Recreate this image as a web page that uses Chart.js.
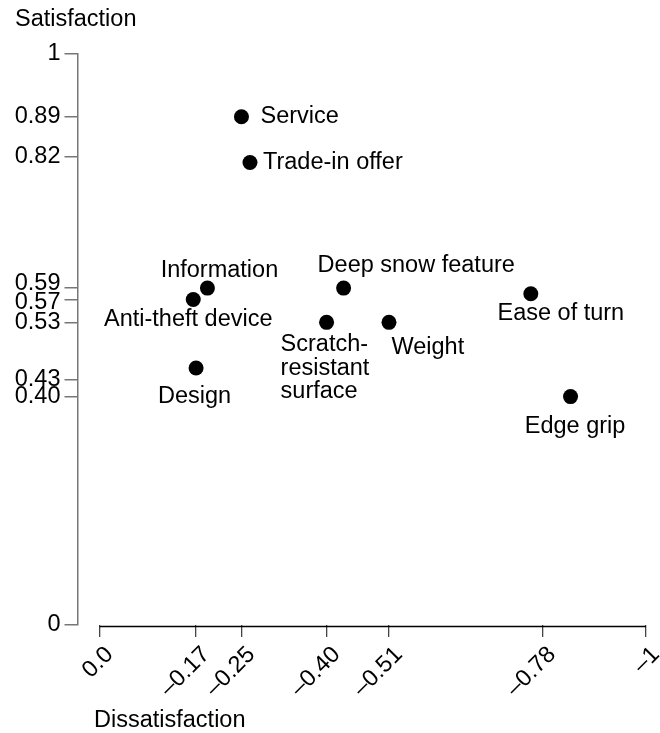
<!DOCTYPE html>
<html>
<head>
<meta charset="utf-8">
<script src="https://cdn.jsdelivr.net/npm/chart.js@4.4.1/dist/chart.umd.min.js"></script>
<style>
  html, body { margin: 0; padding: 0; background: #fff; }
  #wrap { width: 660px; height: 733px; }
</style>
</head>
<body>
<div id="wrap"><canvas id="chart" width="660" height="733"></canvas></div>
<script>
// data
const features = [
  "Service", "Trade-in offer", "Information", "Anti-theft device", "Design",
  "Scratch-resistant surface", "Deep snow feature", "Weight", "Ease of turn", "Edge grip"
];
const dissatisfaction = [-0.25, -0.265, -0.19, -0.165, -0.17, -0.40, -0.43, -0.51, -0.76, -0.83];
const satisfaction = [0.89, 0.81, 0.59, 0.57, 0.45, 0.53, 0.59, 0.53, 0.58, 0.40];

const xTickValues = [0, -0.17, -0.25, -0.40, -0.51, -0.78, -1];
const xTickLabels = ["0.0", "\u20130.17", "\u20130.25", "\u20130.40", "\u20130.51", "\u20130.78", "\u20131"];
const yTickValues = [0, 0.40, 0.43, 0.53, 0.57, 0.59, 0.82, 0.89, 1];
const yTickLabels = ["0", "0.40", "0.43", "0.53", "0.57", "0.59", "0.82", "0.89", "1"];

const FONT = '"Liberation Sans", Arial, Helvetica, sans-serif';
const SIZE = 23.5;

// where each name sits around its dot (px from the dot centre)
const labelSpots = {
  "Service": { dx: 19, dy: 0, align: "left" },
  "Trade-in offer": { dx: 13, dy: 0, align: "left" },
  "Information": { dx: 12, dy: -18, align: "center" },
  "Anti-theft device": { dx: -5, dy: 19.5, align: "center" },
  "Design": { dx: -1.5, dy: 28, align: "center" },
  "Scratch-resistant surface": { dx: -46, dy: 22.5, align: "left", lines: ["Scratch-", "resistant", "surface"] },
  "Deep snow feature": { dx: -26, dy: -22.5, align: "left" },
  "Weight": { dx: 2.5, dy: 25, align: "left" },
  "Ease of turn": { dx: 30, dy: 19.5, align: "center" },
  "Edge grip": { dx: 4.5, dy: 30, align: "center" }
};
// close y labels get pushed apart a little
const yLabelNudge = { 0.59: -5, 0.57: 3 };

const pointLabels = {
  id: "pointLabels",
  afterDatasetsDraw(chart) {
    const ctx = chart.ctx;
    const meta = chart.getDatasetMeta(0);
    ctx.save();
    ctx.font = SIZE + "px " + FONT;
    ctx.fillStyle = "#000";
    ctx.textBaseline = "middle";
    meta.data.forEach((pt, i) => {
      const spot = labelSpots[features[i]];
      const lines = spot.lines || [features[i]];
      ctx.textAlign = spot.align;
      lines.forEach((line, k) => {
        ctx.fillText(line, pt.x + spot.dx, pt.y + spot.dy + k * 23.4);
      });
    });
    ctx.restore();
  }
};

const axisExtras = {
  id: "axisExtras",
  afterDraw(chart) {
    const { ctx, chartArea } = chart;
    const x = chart.scales.x, y = chart.scales.y;
    ctx.save();
    // x axis line runs between the end ticks only
    const ends = x.ticks.map((t) => x.getPixelForValue(t.value));
    ctx.strokeStyle = "#000";
    ctx.lineWidth = 1.5;
    ctx.beginPath();
    ctx.moveTo(Math.min(...ends), chartArea.bottom + 1.5);
    ctx.lineTo(Math.max(...ends), chartArea.bottom + 1.5);
    ctx.stroke();

    ctx.font = SIZE + "px " + FONT;
    ctx.fillStyle = "#000";
    ctx.textBaseline = "middle";
    ctx.textAlign = "right";
    yTickValues.forEach((v, i) => {
      const py = y.getPixelForValue(v) + (yLabelNudge[v] || 0);
      ctx.fillText(yTickLabels[i], chartArea.left - 17, py);
    });

    ctx.textAlign = "left";
    ctx.fillText("Satisfaction", 15, 20);
    ctx.fillText("Dissatisfaction", 94, 721);
    ctx.restore();
  }
};

Chart.defaults.font.family = FONT;
Chart.defaults.font.size = SIZE;
Chart.defaults.color = "#000";

new Chart(document.getElementById("chart"), {
  type: "scatter",
  data: {
    datasets: [{
      data: features.map((f, i) => ({ x: dissatisfaction[i], y: satisfaction[i] })),
      backgroundColor: "#000",
      borderWidth: 0,
      pointRadius: 7.5,
      pointHoverRadius: 7.5
    }]
  },
  options: {
    responsive: false,
    animation: false,
    events: [],
    layout: { padding: { top: 54, right: 14, bottom: 0, left: 0 } },
    plugins: { legend: { display: false }, tooltip: { enabled: false } },
    scales: {
      x: {
        type: "linear",
        reverse: true,
        // the original axis is squeezed a bit: its "–1" end sits where -0.963 would be
        min: -0.963,
        max: 0.039,
        afterBuildTicks: (s) => { s.ticks = xTickValues.map((v) => ({ value: Math.max(v, s.min) })); },
        afterFit: (s) => { s.height = 108; s.paddingRight = 0; s.paddingLeft = 0; },
        border: { display: false },
        grid: { drawOnChartArea: false, tickLength: 12, color: "#444", lineWidth: 1.3 },
        ticks: {
          autoSkip: false,
          minRotation: 45,
          maxRotation: 45,
          padding: 4,
          labelOffset: 10,
          callback: (v, i) => xTickLabels[i]
        }
      },
      y: {
        min: 0,
        max: 1,
        afterBuildTicks: (s) => { s.ticks = yTickValues.map((v) => ({ value: v })); },
        afterFit: (s) => { s.width = 77.5; },
        border: { color: "#777", width: 1.5 },
        grid: { drawOnChartArea: false, tickLength: 13, color: "#777", lineWidth: 1.5 },
        ticks: { display: false }
      }
    }
  },
  plugins: [pointLabels, axisExtras]
});
</script>
</body>
</html>
